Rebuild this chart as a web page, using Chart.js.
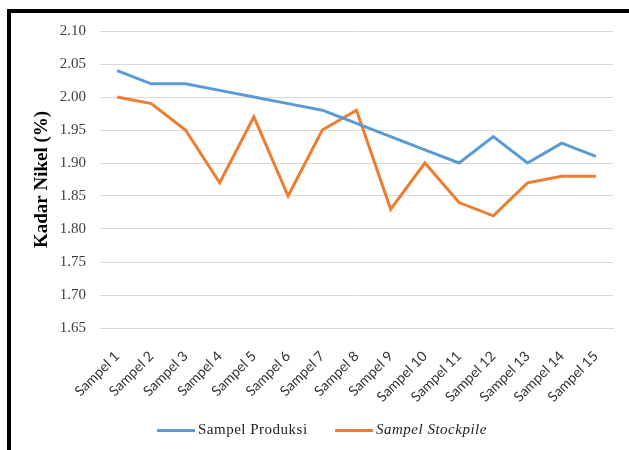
<!DOCTYPE html>
<html>
<head>
<meta charset="utf-8">
<script src="https://cdn.jsdelivr.net/npm/chart.js@4"></script>
<style>
  html, body { margin: 0; padding: 0; background: #fff; }
  #wrap { position: relative; width: 629px; height: 450px; overflow: hidden; }
  #frame { position: absolute; left: 7px; top: 9px; width: 700px; height: 600px; border: 4px solid #000; box-sizing: border-box; pointer-events: none; }
  canvas { position: absolute; left: 0; top: 0; }
  .leg { position: absolute; top: 420px; font-family: "Liberation Serif", serif; font-size: 15px; color: #222; white-space: nowrap; line-height: 18px; letter-spacing: 0.5px; }
  .sw { display: inline-block; width: 38px; height: 3px; vertical-align: middle; margin-right: 3px; position: relative; top: 0px; }
</style>
</head>
<body>
<div id="wrap">
  <canvas id="c" width="629" height="450"></canvas>
  <div id="frame"></div>
  <div class="leg" id="leg1" style="left:157px;"><span class="sw" style="background:#5B9BD5"></span>Sampel Produksi</div>
  <div class="leg" id="leg2" style="left:335px;"><span class="sw" style="background:#ED7D31"></span><i>Sampel Stockpile</i></div>
</div>
<script>
const categories = ["Sampel 1","Sampel 2","Sampel 3","Sampel 4","Sampel 5","Sampel 6","Sampel 7","Sampel 8","Sampel 9","Sampel 10","Sampel 11","Sampel 12","Sampel 13","Sampel 14","Sampel 15"];
const sampelProduksi = [2.04, 2.02, 2.02, 2.01, 2.00, 1.99, 1.98, 1.96, 1.94, 1.92, 1.90, 1.94, 1.90, 1.93, 1.91];
const sampelStockpile = [2.00, 1.99, 1.95, 1.87, 1.97, 1.85, 1.95, 1.98, 1.83, 1.90, 1.84, 1.82, 1.87, 1.88, 1.88];
const yMin = 1.65, yMax = 2.10, yStep = 0.05;
const yTitle = "Kadar Nikel (%)";

new Chart(document.getElementById('c'), {
  type: 'line',
  data: {
    labels: categories,
    datasets: [
      { label: 'Sampel Produksi', data: sampelProduksi, borderColor: '#5B9BD5', backgroundColor: '#5B9BD5', borderWidth: 3, pointRadius: 0, tension: 0 },
      { label: 'Sampel Stockpile', data: sampelStockpile, borderColor: '#ED7D31', backgroundColor: '#ED7D31', borderWidth: 3, pointRadius: 0, tension: 0 }
    ]
  },
  options: {
    responsive: false,
    animation: false,
    layout: { padding: { top: 31, right: 16, left: 0, bottom: 0 } },
    plugins: { legend: { display: false }, tooltip: { enabled: false } },
    scales: {
      x: {
        offset: true,
        grid: { display: false, drawTicks: false },
        border: { display: true, color: '#d9d9d9', width: 1 },
        ticks: { font: { family: 'Lato', size: 14 }, color: '#333', minRotation: 45, maxRotation: 45, padding: 20, autoSkip: false },
        afterFit: (s) => { s.height = 122; }
      },
      y: {
        min: yMin, max: yMax,
        grid: { color: '#d9d9d9', lineWidth: 1, drawTicks: false },
        border: { display: false },
        ticks: { stepSize: yStep, font: { family: 'Liberation Serif', size: 15 }, color: '#404040', padding: 14, callback: (v) => Number(v).toFixed(2) },
        title: { display: true, text: yTitle, font: { family: 'Liberation Serif', size: 19, weight: 'bold' }, color: '#000', padding: { top: 31, bottom: 0 } },
        afterFit: (s) => { s.width = 100; }
      }
    }
  }
});
</script>
</body>
</html>
